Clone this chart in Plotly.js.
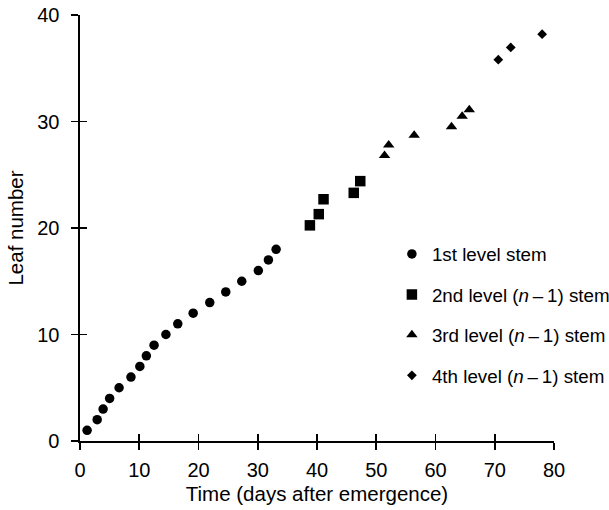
<!DOCTYPE html>
<html>
<head>
<meta charset="utf-8">
<script src="https://cdn.plot.ly/plotly-3.0.1.min.js"></script>
<style>html,body{margin:0;padding:0;background:#fff;}#chart{width:609px;height:510px;}</style>
</head>
<body>
<div id="chart"></div>
<script>
// Data
const level1Days = [1.2, 2.9, 3.9, 5.0, 6.6, 8.6, 10.1, 11.2, 12.5, 14.5, 16.5, 19.1, 21.9, 24.6, 27.3, 30.1, 31.8, 33.1];
const level1Leaves = [1, 2, 3, 4, 5, 6, 7, 8, 9, 10, 11, 12, 13, 14, 15, 16, 17, 18];
const level2Days = [38.8, 40.3, 41.1, 46.2, 47.3];
const level2Leaves = [20.25, 21.3, 22.7, 23.3, 24.4];
const level3Days = [51.4, 52.1, 56.4, 62.7, 64.5, 65.7];
const level3Leaves = [26.8, 27.8, 28.7, 29.5, 30.5, 31.1];
const level4Days = [70.6, 72.7, 78.0];
const level4Leaves = [35.8, 36.95, 38.2];
const seriesNames = ['1st level stem', '2nd level (<i>n</i>\u2009\u2013\u20091) stem', '3rd level (<i>n</i>\u2009\u2013\u20091) stem', '4th level (<i>n</i>\u2009\u2013\u20091) stem'];
const xTicks = [0, 10, 20, 30, 40, 50, 60, 70, 80];
const yTicks = [0, 10, 20, 30, 40];

const FONT = 'Liberation Sans, Arial, Helvetica, sans-serif';

function tr(x, y, name, symbol, size, axes) {
  const t = {
    x: x, y: y, name: name, type: 'scatter', mode: 'markers',
    marker: {symbol: symbol, size: size, color: '#000', line: {width: 0}},
    cliponaxis: false, legendgroup: name
  };
  if (axes) { t.xaxis = 'x2'; t.yaxis = 'y2'; }
  return t;
}

const data = [
  tr(level1Days, level1Leaves, seriesNames[0], 'circle', 9.5),
  tr(level2Days, level2Leaves, seriesNames[1], 'square', 10.5),
  tr(level3Days, level3Leaves, seriesNames[2], 'triangle-up', 10),
  tr(level4Days, level4Leaves, seriesNames[3], 'diamond', 7.5, true)
];

const baseAxis = {
  showgrid: false, zeroline: false, showline: true, linecolor: '#000', linewidth: 1.6,
  ticks: 'outside', ticklen: 7, tickwidth: 1.6, tickcolor: '#000',
  tickfont: {family: FONT, size: 20, color: '#000'}, fixedrange: true
};

const layout = {
  width: 609, height: 510,
  margin: {l: 80, r: 55, t: 15, b: 69, autoexpand: false},
  paper_bgcolor: '#fff', plot_bgcolor: '#fff',
  font: {family: FONT, color: '#000'},
  xaxis: Object.assign({}, baseAxis, {
    range: [0, 80], tickvals: xTicks, ticktext: xTicks.map(String), ticklabelstandoff: 3,
    title: {text: 'Time (days after emergence)', font: {family: FONT, size: 20.5, color: '#000'}, standoff: 7}
  }),
  yaxis: Object.assign({}, baseAxis, {
    range: [0, 40], tickvals: yTicks, ticktext: yTicks.map(String), ticklabelstandoff: 8,
    title: {text: 'Leaf number', font: {family: FONT, size: 20.5, color: '#000'}, standoff: 8}
  }),
  xaxis2: {range: [0, 80], overlaying: 'x', anchor: 'y2', showgrid: false, zeroline: false, showline: false,
    ticks: 'inside', ticklen: 7, tickwidth: 1.6, tickcolor: '#000', tickvals: xTicks, showticklabels: false, fixedrange: true},
  yaxis2: {range: [0, 40], overlaying: 'y', anchor: 'x2', showgrid: false, zeroline: false, showline: false,
    ticks: 'inside', ticklen: 7, tickwidth: 1.6, tickcolor: '#000', tickvals: yTicks, showticklabels: false, fixedrange: true},
  showlegend: true,
  legend: {
    x: 0.658, xanchor: 'left', y: 0.483, yanchor: 'top',
    bgcolor: 'rgba(0,0,0,0)', borderwidth: 0,
    font: {family: FONT, size: 18.8, color: '#000'},
    tracegroupgap: 13, traceorder: 'grouped'
  }
};

Plotly.newPlot('chart', data, layout, {displayModeBar: false, staticPlot: true});
</script>
</body>
</html>
